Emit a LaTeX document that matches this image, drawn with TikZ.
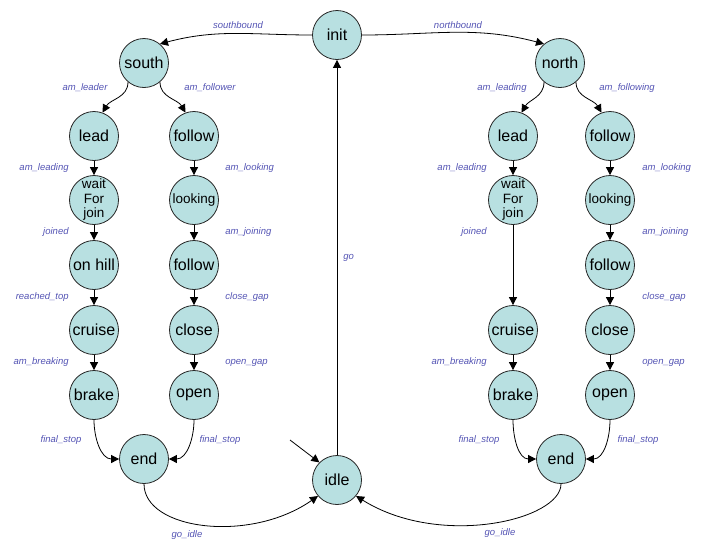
\documentclass[tikz,border=0pt]{standalone}
\usepackage{fontspec}
\setmainfont{Liberation Sans}
\usetikzlibrary{arrows.meta}
\definecolor{stfill}{RGB}{184,224,225}
\definecolor{lblblue}{RGB}{84,84,180}

\begin{document}
\begin{tikzpicture}[
        state/.style={draw=black!85, line width=0.8pt, circle, fill=stfill, minimum size=49pt, inner sep=0pt, font=\fontsize{16}{18}\selectfont},
        small/.style={font=\fontsize{13.5}{14.5}\selectfont, align=center}, % inner text of the busy states
        lbl/.style={text=lblblue, inner sep=0pt, font=\fontsize{9.5}{11}\selectfont\itshape},
        trans/.style={draw, line width=0.8pt, -{Triangle[length=8pt,width=8pt]}}
    ]
    \useasboundingbox (0,-539pt) rectangle (701pt,0);
    \begin{scope}[x=1pt, y=1pt]
    % top and bottom states
    \node[state] (init) at (337,-35) {init};
    \node[state] (south) at (144,-63) {south};
    \node[state] (north) at (560,-63) {north};
    \node[state] (idle) at (337,-480) {idle};
    \coordinate (start) at (290,-440);

    % southbound side
    \node[state] (sLead) at (94,-136) {lead};
    \node[state, small] (sWait) at (94,-200) {wait\\For\\join};
    \node[state] (sHill) at (94,-265) {on hill};
    \node[state] (sCruise) at (94,-330) {cruise};
    \node[state] (sBrake) at (94,-395) {brake};
    \node[state] (sFollow) at (194,-136) {follow};
    \node[state, small] (sLook) at (194,-200) {looking};
    \node[state] (sJoin) at (194,-265) {follow};
    \node[state] (sClose) at (194,-330) {close};
    \node[state] (sOpen) at (194,-395) {open};
    \node[state] (sEnd) at (144,-459) {end};

    % northbound side
    \node[state] (nLead) at (513,-136) {lead};
    \node[state, small] (nWait) at (513,-200) {wait\\For\\join};
    \node[state] (nCruise) at (513,-330) {cruise};
    \node[state] (nBrake) at (513,-395) {brake};
    \node[state] (nFollow) at (610,-136) {follow};
    \node[state, small] (nLook) at (610,-200) {looking};
    \node[state] (nJoin) at (610,-265) {follow};
    \node[state] (nClose) at (610,-330) {close};
    \node[state] (nOpen) at (610,-395) {open};
    \node[state] (nEnd) at (561,-459) {end};

    % transitions
    \draw[trans] (init.west) to[out=180,in=15] (south.50);
    \draw[trans] (init.east) to[out=0,in=165] (north.130);
    \draw[trans] (idle) -- node[lbl, right=6pt] (tGo) {go} (init);
    \draw[trans] (start) -- (idle.135);

    \draw[trans] (south.-130) to[out=-90,in=60] (sLead.70);
    \draw[trans] (south.-50) to[out=-90,in=120] (sFollow.110);
    \draw[trans] (sLead) -- node[lbl, left=25pt] (tsLeading) {am\_leading} (sWait);
    \draw[trans] (sWait) -- node[lbl, left=25pt] (tsJoined) {joined} (sHill);
    \draw[trans] (sHill) -- node[lbl, left=25pt] (tsTop) {reached\_top} (sCruise);
    \draw[trans] (sCruise) -- node[lbl, left=25pt] (tsBreaking) {am\_breaking} (sBrake);
    \draw[trans] (sFollow) -- node[lbl, right=31pt] (tsLooking) {am\_looking} (sLook);
    \draw[trans] (sLook) -- node[lbl, right=31pt] (tsJoining) {am\_joining} (sJoin);
    \draw[trans] (sJoin) -- node[lbl, right=31pt] (tsClose) {close\_gap} (sClose);
    \draw[trans] (sClose) -- node[lbl, right=31pt] (tsOpen) {open\_gap} (sOpen);
    \draw[trans] (sBrake.south) to[out=-90,in=180] (sEnd.west);
    \draw[trans] (sOpen.south) to[out=-90,in=0] (sEnd.east);
    \draw[trans] (sEnd.south) to[out=-90,in=215,out distance=46pt,in distance=83pt] (idle.220);

    \draw[trans] (north.-130) to[out=-90,in=60] (nLead.70);
    \draw[trans] (north.-50) to[out=-90,in=120] (nFollow.110);
    \draw[trans] (nLead) -- node[lbl, left=26pt] (tnLeading) {am\_leading} (nWait);
    \draw[trans] (nWait) -- node[lbl, left=26pt, pos=0.09] (tnJoined) {joined} (nCruise);
    \draw[trans] (nCruise) -- node[lbl, left=26pt] (tnBreaking) {am\_breaking} (nBrake);
    \draw[trans] (nFollow) -- node[lbl, right=32pt] (tnLooking) {am\_looking} (nLook);
    \draw[trans] (nLook) -- node[lbl, right=32pt] (tnJoining) {am\_joining} (nJoin);
    \draw[trans] (nJoin) -- node[lbl, right=32pt] (tnClose) {close\_gap} (nClose);
    \draw[trans] (nClose) -- node[lbl, right=32pt] (tnOpen) {open\_gap} (nOpen);
    \draw[trans] (nBrake.south) to[out=-90,in=180] (nEnd.west);
    \draw[trans] (nOpen.south) to[out=-90,in=0] (nEnd.east);
    \draw[trans] (nEnd.south) to[out=-90,in=-32,out distance=36pt,in distance=99pt] (idle.-40);

    % free standing labels
    \node[lbl] (tSouthbound) at (238,-25) {southbound};
    \node[lbl] (tNorthbound) at (458,-25) {northbound};
    \node[lbl] (tsLeader) at (85,-88) {am\_leader};
    \node[lbl] (tsFollower) at (210,-88) {am\_follower};
    \node[lbl] (tnLeading2) at (502,-88) {am\_leading};
    \node[lbl] (tnFollowing) at (627,-88) {am\_following};
    \node[lbl] (tsStop1) at (61,-440) {final\_stop};
    \node[lbl] (tsStop2) at (220,-440) {final\_stop};
    \node[lbl] (tnStop1) at (479,-440) {final\_stop};
    \node[lbl] (tnStop2) at (638,-440) {final\_stop};
    \node[lbl] (tsIdle) at (187,-535) {go\_idle};
    \node[lbl] (tnIdle) at (500,-533) {go\_idle};
    \end{scope}
\end{tikzpicture}
\end{document}
